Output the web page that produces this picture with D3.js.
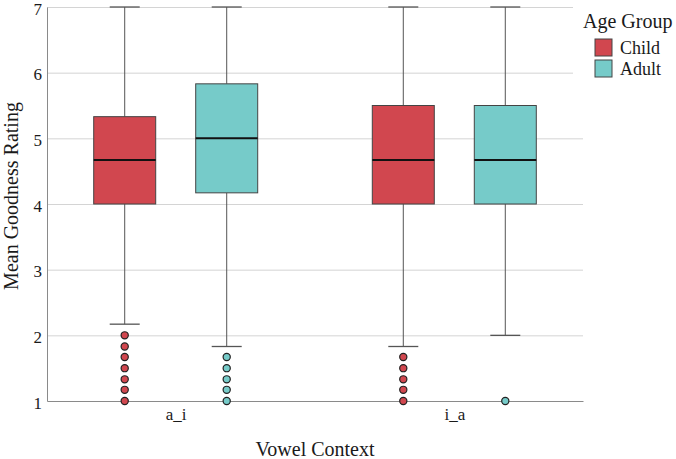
<!DOCTYPE html>
<html>

<head>
    <meta charset="utf-8">
    <style>
        body {
            margin: 0;
            background: white;
        }

        svg {
            font-family: 'Liberation Serif', 'Times New Roman', serif;
        }
    </style>
</head>

<body>
    <svg width="676" height="459"></svg>

    <script src="https://d3js.org/d3.v7.min.js"></script>
    <script>
        // chart values
        const categories = ["a_i", "i_a"];
        const groups = ["Child", "Adult"];
        const groupColors = ["#d1474f", "#76cbc9"];

        const boxCategory = ["a_i", "a_i", "i_a", "i_a"];
        const boxGroup = ["Child", "Adult", "Child", "Adult"];
        const whiskerLow = [2.17, 1.83, 1.83, 2.0];
        const q1 = [4, 4.17, 4, 4];
        const median = [4.67, 5, 4.67, 4.67];
        const q3 = [5.33, 5.83, 5.5, 5.5];
        const whiskerHigh = [7, 7, 7, 7];
        const outliers = [
            [1, 1.17, 1.33, 1.5, 1.67, 1.83, 2],
            [1, 1.17, 1.33, 1.5, 1.67],
            [1, 1.17, 1.33, 1.5, 1.67],
            [1]
        ];
        const yTicks = [1, 2, 3, 4, 5, 6, 7];

        let plotLeft = 47, plotRight = 583, plotTop = 7, plotBottom = 401;
        let boxW = 62, capW = 30;

        let svg = d3.select("svg")

        let x = d3.scalePoint()
            .domain(categories)
            .range([plotLeft, plotRight])
            .padding(0.462)

        let xSub = d3.scalePoint()
            .domain(groups)
            .range([-51, 51])

        let y = d3.scaleLinear()
            .domain([1, 7])
            .range([plotBottom, plotTop])

        let color = d3.scaleOrdinal()
            .domain(groups)
            .range(groupColors)

        // gridlines
        svg.append("g")
            .selectAll("line")
            .data(yTicks.slice(1))
            .join("line")
            .attr("x1", plotLeft)
            .attr("x2", d => d >= 6 ? plotRight - 10 : plotRight)
            .attr("y1", d => y(d) + 0.5)
            .attr("y2", d => y(d) + 0.5)
            .style("stroke", "#d4d4d4")
            .style("stroke-width", 1)

        // y axis
        let yAxis = svg.append("g")
            .attr("transform", `translate(${plotLeft},0)`)
            .call(d3.axisLeft(y).tickValues(yTicks).tickSize(0).tickPadding(5).tickFormat(d3.format("d")))
            .attr("font-family", "Liberation Serif")
            .attr("font-size", 17)
        yAxis.select(".domain").attr("stroke", "#8a8a8a")
        yAxis.selectAll("text").attr("fill", "#1a1a1a").attr("dy", "0.42em")

        // x axis
        let xAxis = svg.append("g")
            .attr("transform", `translate(0,${plotBottom})`)
            .call(d3.axisBottom(x).tickSize(0).tickPadding(7))
            .attr("font-family", "Liberation Serif")
            .attr("font-size", 17)
        xAxis.select(".domain").attr("stroke", "#8a8a8a")
        xAxis.selectAll("text").attr("fill", "#1a1a1a")

        let boxes = boxCategory.map((c, i) => ({
            cx: x(c) + xSub(boxGroup[i]),
            group: boxGroup[i],
            lo: whiskerLow[i], q1: q1[i], med: median[i], q3: q3[i], hi: whiskerHigh[i],
            out: outliers[i]
        }))

        let g = svg.append("g")
            .selectAll("g")
            .data(boxes)
            .join("g")

        // whiskers
        g.append("line")
            .attr("x1", d => d.cx).attr("x2", d => d.cx)
            .attr("y1", d => y(d.hi)).attr("y2", d => y(d.q3))
            .style("stroke", "#555")
        g.append("line")
            .attr("x1", d => d.cx).attr("x2", d => d.cx)
            .attr("y1", d => y(d.q1)).attr("y2", d => y(d.lo))
            .style("stroke", "#555")
        g.append("line")
            .attr("x1", d => d.cx - capW / 2).attr("x2", d => d.cx + capW / 2)
            .attr("y1", d => y(d.hi)).attr("y2", d => y(d.hi))
            .style("stroke", "#555")
            .style("stroke-width", 1.3)
        g.append("line")
            .attr("x1", d => d.cx - capW / 2).attr("x2", d => d.cx + capW / 2)
            .attr("y1", d => y(d.lo)).attr("y2", d => y(d.lo))
            .style("stroke", "#555")
            .style("stroke-width", 1.3)

        // boxes
        g.append("rect")
            .attr("x", d => d.cx - boxW / 2)
            .attr("width", boxW)
            .attr("y", d => y(d.q3))
            .attr("height", d => y(d.q1) - y(d.q3))
            .style("fill", d => color(d.group))
            .style("stroke", "#444")
            .style("stroke-width", 1)

        g.append("line")
            .attr("x1", d => d.cx - boxW / 2).attr("x2", d => d.cx + boxW / 2)
            .attr("y1", d => y(d.med)).attr("y2", d => y(d.med))
            .style("stroke", "#111")
            .style("stroke-width", 2)

        // outliers
        g.selectAll("circle")
            .data(d => d.out.map(v => ({ v: v, cx: d.cx, group: d.group })))
            .join("circle")
            .attr("cx", d => d.cx)
            .attr("cy", d => y(d.v))
            .attr("r", 3.6)
            .style("fill", d => color(d.group))
            .style("stroke", "#222")
            .style("stroke-width", 1.2)

        // axis titles
        svg.append("text")
            .attr("x", (plotLeft + plotRight) / 2)
            .attr("y", 456)
            .attr("text-anchor", "middle")
            .style("font-size", "20px")
            .attr("fill", "#1a1a1a")
            .text("Vowel Context")

        svg.append("text")
            .attr("transform", `translate(18,196) rotate(-90)`)
            .attr("text-anchor", "middle")
            .style("font-size", "20px")
            .attr("fill", "#1a1a1a")
            .text("Mean Goodness Rating")

        // legend
        let legend = svg.append("g")
        legend.append("text")
            .attr("x", 583)
            .attr("y", 28)
            .style("font-size", "20px")
            .attr("fill", "#1a1a1a")
            .text("Age Group")

        let items = legend.selectAll(".item")
            .data(groups)
            .join("g")
            .attr("class", "item")
            .attr("transform", (d, i) => `translate(595,${39 + i * 21})`)
        items.append("rect")
            .attr("width", 17)
            .attr("height", 17)
            .style("fill", d => color(d))
            .style("stroke", "#444")
        items.append("text")
            .attr("x", 25)
            .attr("y", 15)
            .style("font-size", "18px")
            .attr("fill", "#1a1a1a")
            .text(d => d)
    </script>
</body>

</html>
